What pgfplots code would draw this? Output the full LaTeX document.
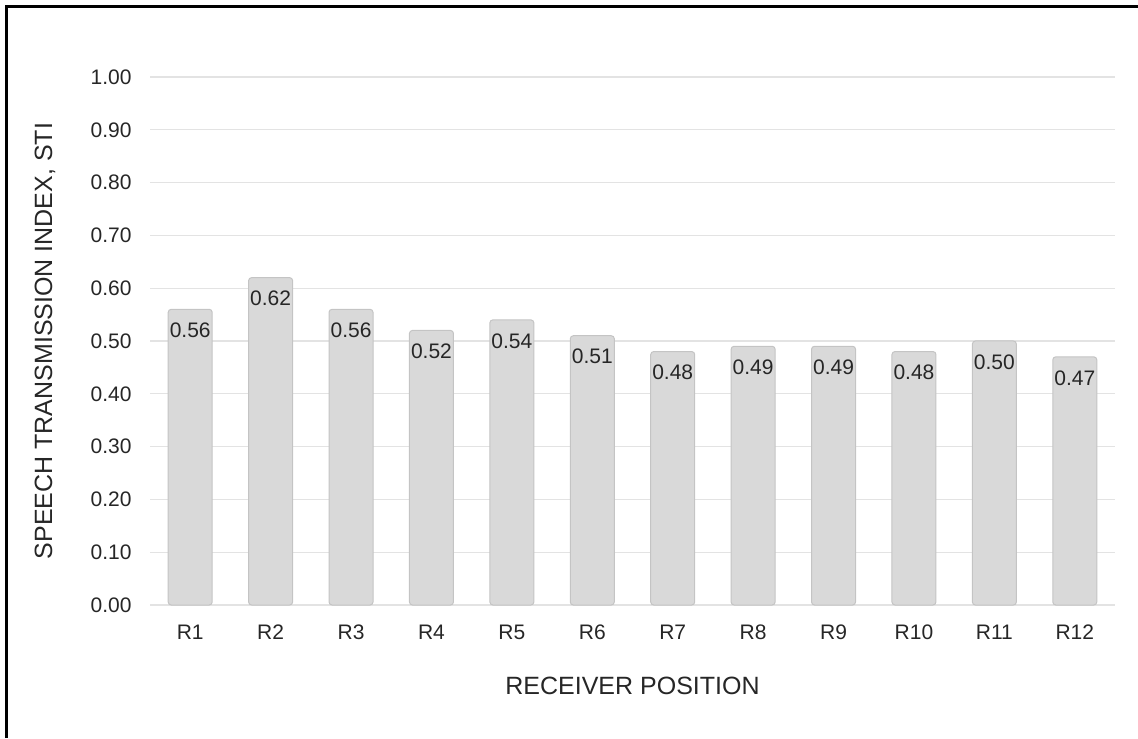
\documentclass[border=0pt]{standalone}
\usepackage{fontspec}
\setmainfont{Liberation Sans}
\usepackage{pgfplots}
\pgfplotsset{compat=1.18}
\definecolor{barfill}{HTML}{D9D9D9}
\definecolor{baredge}{HTML}{C4C4C4}
\definecolor{gridc}{HTML}{E3E3E3}
\begin{document}
\begin{tikzpicture}
\path[use as bounding box] (-75pt,-66.5pt) rectangle (494pt,302.5pt);
\begin{axis}[at={(0,0)},anchor=south west,scale only axis,width=482.5pt,height=264pt,
  ybar,bar width=22pt,xmin=-0.5,xmax=11.5,ymin=0,ymax=1,
  xtick={0,...,11},xticklabels={R1,R2,R3,R4,R5,R6,R7,R8,R9,R10,R11,R12},
  ytick={0,0.1,0.2,0.3,0.4,0.5,0.6,0.7,0.8,0.9,1.0},
  /pgf/number format/assume math mode=true,
  /pgf/number format/fixed,/pgf/number format/fixed zerofill,/pgf/number format/precision=2,
  ymajorgrids,grid style={gridc,line width=0.6pt},
  axis line style={draw=none},major tick length=0pt,
  tick label style={font=\fontsize{10.5}{12}\selectfont,text=black!85},
  yticklabel style={anchor=east,xshift=-9pt,inner sep=0pt},
  xticklabel style={anchor=center,yshift=-13.5pt,inner sep=0pt},
  xlabel={RECEIVER POSITION},ylabel={SPEECH TRANSMISSION INDEX, STI},
  label style={font=\fontsize{12.5}{14}\selectfont,text=black!85},
  xlabel style={at={(axis description cs:0.5,-0.1534)},anchor=center},
  ylabel style={at={(axis description cs:-0.1088,0.5)},anchor=center},
  nodes near coords,
  every node near coord/.append style={anchor=north,yshift=-6.5pt,inner sep=0pt,font=\fontsize{10.5}{12}\selectfont,text=black!85},
]
\addplot[fill=barfill,draw=baredge,line width=0.5pt,rounded corners=1.5pt] coordinates {
(0,0.56) (1,0.62) (2,0.56) (3,0.52) (4,0.54) (5,0.51) (6,0.48) (7,0.49) (8,0.49) (9,0.48) (10,0.50) (11,0.47)};
\end{axis}
\draw[line width=1.1pt] (-71.75pt,-66.5pt) -- (-71.75pt,299.25pt) -- (494pt,299.25pt);
\end{tikzpicture}
\end{document}
